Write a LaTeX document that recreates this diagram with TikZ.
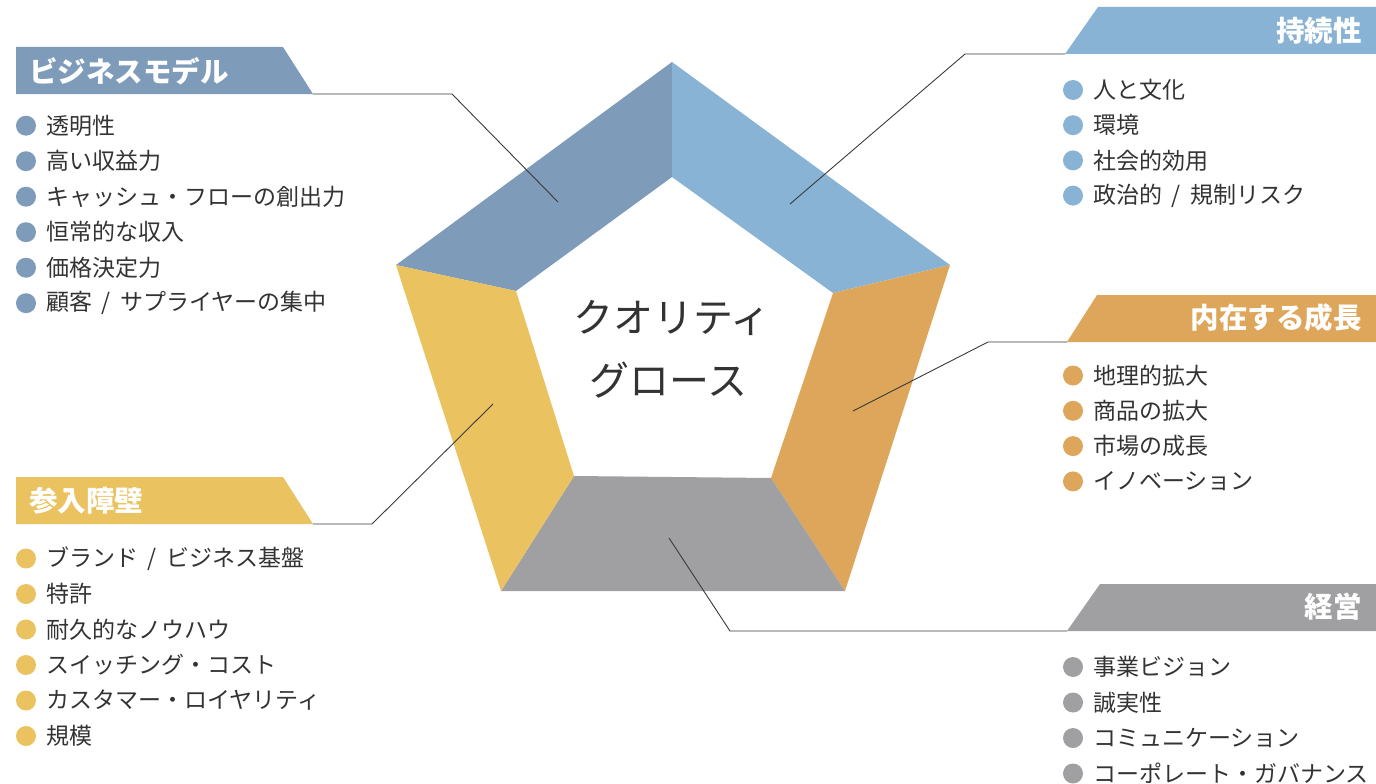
\documentclass[tikz,border=0pt]{standalone}
\usepackage{fontspec}
\setmainfont{Noto Sans CJK JP}
\definecolor{cBiz}{HTML}{7F9BBA}
\definecolor{cSus}{HTML}{89B3D5}
\definecolor{cGro}{HTML}{DEA65A}
\definecolor{cMgt}{HTML}{A0A0A3}
\definecolor{cBar}{HTML}{EAC260}
\definecolor{txt}{HTML}{333333}
\definecolor{lnk}{HTML}{3A3A3A}
\newcommand{\slsep}{\hspace{0.42em}/\hspace{0.42em}}
\tikzset{
  seg/.style={draw=none},
  hdrtxt/.style={font=\fontsize{28.5}{30}\selectfont\bfseries, text=white, inner sep=0pt},
  item/.style={anchor=west, font=\fontsize{23}{25}\selectfont, text=txt, inner sep=0pt},
  dot/.style={circle, fill=#1, minimum size=20pt, inner sep=0pt},
  link/.style={draw=lnk, line width=0.9pt},
  ctitle/.style={font=\fontsize{40}{44}\selectfont, text=txt, inner sep=0pt}
}
\begin{document}
\begin{tikzpicture}[x=1pt,y=-1pt]
\useasboundingbox (0,0) rectangle (1376,784);
% pentagon vertices
\coordinate (O1) at (672,62);
\coordinate (O2) at (950,265);
\coordinate (O3) at (845,591);
\coordinate (O4) at (501,591);
\coordinate (O5) at (396,265);
\coordinate (I1) at (672,177);
\coordinate (I2) at (833,293);
\coordinate (I3) at (771,478);
\coordinate (I4) at (574,476);
\coordinate (I5) at (516,291);
\fill[cBiz] (O5) -- (O1) -- (I1) -- (I5) -- cycle;
\fill[cSus] (O1) -- (O2) -- (I2) -- (I1) -- cycle;
\fill[cGro] (O2) -- (O3) -- (I3) -- (I2) -- cycle;
\fill[cMgt] (I4) -- (I3) -- (O3) -- (O4) -- cycle;
\fill[cBar] (O5) -- (I5) -- (I4) -- (O4) -- cycle;
% center title
\node[ctitle] (ct1) at (672,318) {クオリティ};
\node[ctitle] (ct2) at (668,380) {グロース};
% header boxes
\fill[cBiz] (16,47) -- (283,47) -- (313,94) -- (16,94) -- cycle;
\coordinate (hBiz) at (313,94);
\node[hdrtxt, anchor=west] (tBiz) at (29,71) {ビジネスモデル};
\fill[cBar] (16,477) -- (283,477) -- (313,524) -- (16,524) -- cycle;
\coordinate (hBar) at (313,524);
\node[hdrtxt, anchor=west] (tBar) at (29,501) {参入障壁};
\fill[cSus] (1098,7) -- (1376,7) -- (1376,54) -- (1065,54) -- cycle;
\coordinate (hSus) at (1065,54);
\node[hdrtxt, anchor=east] (tSus) at (1362,31) {持続性};
\fill[cGro] (1097,295) -- (1376,295) -- (1376,342) -- (1067,342) -- cycle;
\coordinate (hGro) at (1067,342);
\node[hdrtxt, anchor=east] (tGro) at (1362,318) {内在する成長};
\fill[cMgt] (1100,584) -- (1376,584) -- (1376,631) -- (1067,631) -- cycle;
\coordinate (hMgt) at (1067,631);
\node[hdrtxt, anchor=east] (tMgt) at (1362,607) {経営};
% connector points
\coordinate (pBiz) at (558,202);
\coordinate (eBiz) at (452,94);
\coordinate (pSus) at (790,204);
\coordinate (eSus) at (965,54);
\coordinate (pGro) at (853,411);
\coordinate (eGro) at (988,342);
\coordinate (pMgt) at (669,538);
\coordinate (eMgt) at (730,631);
\coordinate (pBar) at (493,404);
\coordinate (eBar) at (372,524);
\draw[link] (hBiz) -- (eBiz) -- (pBiz);
\draw[link] (hSus) -- (eSus) -- (pSus);
\draw[link] (hGro) -- (eGro) -- (pGro);
\draw[link] (hMgt) -- (eMgt) -- (pMgt);
\draw[link] (hBar) -- (eBar) -- (pBar);
% lists
\foreach \t [count=\i] in {透明性,高い収益力,キャッシュ・フローの創出力,恒常的な収入,価格決定力,顧客\slsep サプライヤーの集中}{
  \node[dot=cBiz] (bizd\i) at (26,{125.7+35.5*(\i-1)}) {};
  \node[item] (bizt\i) at (46,{125.7+35.5*(\i-1)}) {\t};
}
\foreach \t [count=\i] in {人と文化,環境,社会的効用,政治的\slsep 規制リスク}{
  \node[dot=cSus] (susd\i) at (1073,{90+35.2*(\i-1)}) {};
  \node[item] (sust\i) at (1093,{90+35.2*(\i-1)}) {\t};
}
\foreach \t [count=\i] in {地理的拡大,商品の拡大,市場の成長,イノベーション}{
  \node[dot=cGro] (grod\i) at (1073,{375.5+35.3*(\i-1)}) {};
  \node[item] (grot\i) at (1093,{375.5+35.3*(\i-1)}) {\t};
}
\foreach \t [count=\i] in {ブランド\slsep ビジネス基盤,特許,耐久的なノウハウ,スイッチング・コスト,カスタマー・ロイヤリティ,規模}{
  \node[dot=cBar] (bard\i) at (26,{558.5+35.5*(\i-1)}) {};
  \node[item] (bart\i) at (46,{558.5+35.5*(\i-1)}) {\t};
}
\foreach \t [count=\i] in {事業ビジョン,誠実性,コミュニケーション,コーポレート・ガバナンス}{
  \node[dot=cMgt] (mgtd\i) at (1073,{667+35.5*(\i-1)}) {};
  \node[item] (mgtt\i) at (1093,{667+35.5*(\i-1)}) {\t};
}
\end{tikzpicture}
\end{document}
